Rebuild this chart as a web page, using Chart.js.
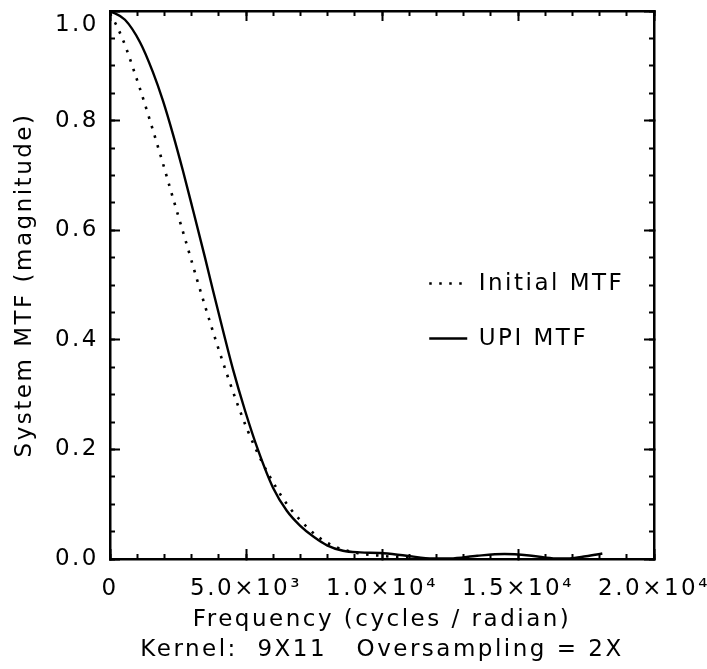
<!DOCTYPE html>
<html>
<head>
<meta charset="utf-8">
<script src="https://cdn.jsdelivr.net/npm/chart.js@4/dist/chart.umd.min.js"></script>
<style>
html,body{margin:0;padding:0;background:#fff;}
#wrap{width:707px;height:669px;}
</style>
</head>
<body>
<div id="wrap"><canvas id="c" width="707" height="669"></canvas></div>
<script>
// ---- data ----
const seriesNames = ['Initial MTF', 'UPI MTF'];
const initialFreq = [0, 184, 331, 478, 625, 846, 1103, 1471, 1801, 2022, 2243, 2463, 2684, 2904, 3199, 3566, 3934, 4301, 4669, 5074, 5588, 5882, 6300, 6691, 7243, 7610, 8200, 9081, 9926, 10404, 11000];
const initialMTF  = [0.995, 0.979, 0.964, 0.947, 0.928, 0.896, 0.858, 0.800, 0.746, 0.709, 0.671, 0.634, 0.597, 0.560, 0.510, 0.450, 0.392, 0.337, 0.285, 0.233, 0.177, 0.150, 0.115, 0.088, 0.058, 0.042, 0.024, 0.011, 0.006, 0.004, 0.003];
const upiFreq = [0, 551, 1103, 1581, 1949, 2316, 2684, 3051, 3493, 3787, 4154, 4522, 4963, 5441, 5993, 6500, 6985, 7500, 7978, 8566, 9200, 9926, 10900, 11870, 12500, 13500, 14500, 15500, 16400, 16900, 17500, 18100];
const upiMTF  = [1.000, 0.984, 0.943, 0.888, 0.836, 0.775, 0.708, 0.637, 0.550, 0.490, 0.417, 0.346, 0.271, 0.199, 0.130, 0.088, 0.061, 0.040, 0.025, 0.015, 0.012, 0.011, 0.006, 0.001, 0.001, 0.006, 0.009, 0.006, 0.001, 0.001, 0.005, 0.010];
const xTickValues = [0, 5000, 10000, 15000, 20000];
const xTickLabels = ['0', '5.0×10³', '1.0×10⁴', '1.5×10⁴', '2.0×10⁴'];
const yTickValues = [0, 0.2, 0.4, 0.6, 0.8, 1.0];
const yTickLabels = ['0.0', '0.2', '0.4', '0.6', '0.8', '1.0'];
const xAxisTitle = ['Frequency (cycles / radian)', 'Kernel:  9X11   Oversampling = 2X'];
const yAxisTitle = 'System MTF (magnitude)';

// ---- styling ----
const FONT = 'DejaVu Sans';
const LETTER_SPACING = '2.5px';
const LEGEND_POS = {x: 0.528, y: 0.418}; // fraction of chart area

Chart.defaults.font.family = FONT;
Chart.defaults.color = '#000';

const spacingPlugin = {
  id: 'spacing',
  beforeUpdate(chart) { chart.ctx.letterSpacing = LETTER_SPACING; },
  beforeDraw(chart) { chart.ctx.letterSpacing = LETTER_SPACING; }
};
const legendPlacer = {
  id: 'legendPlacer',
  afterLayout(chart) {
    const lg = chart.legend, ca = chart.chartArea;
    if (!lg) return;
    const w = lg.width;
    lg.left = ca.left + LEGEND_POS.x * (ca.right - ca.left);
    lg.top = ca.top + LEGEND_POS.y * (ca.bottom - ca.top);
    lg.right = lg.left + w;
    lg.bottom = ca.bottom;
  }
};

function xLabel(v) {
  const i = xTickValues.indexOf(v);
  return i >= 0 ? xTickLabels[i] : '';
}
function yLabel(v) {
  const i = yTickValues.findIndex(t => Math.abs(t - v) < 1e-6);
  if (i < 0) return '';
  // the top label sits just below its tick in the reference
  return i === yTickValues.length - 1 ? ['', yTickLabels[i]] : yTickLabels[i];
}

const tickFont = {family: FONT, size: 23};
const gridMajor = {drawOnChartArea: false, tickLength: -10, tickWidth: 2, tickColor: '#000'};
const gridMinor = {drawOnChartArea: false, tickLength: -5, tickWidth: 2, tickColor: '#000'};
const border = {display: true, color: '#000', width: 2.5};

function minorX(pos) {
  return {type: 'linear', position: pos, min: 0, max: 20000, display: true, weight: 0,
    ticks: {display: false, stepSize: 1000}, grid: gridMinor, border: {display: false},
    afterFit(s) { s.height = 0; s.paddingLeft = 0; s.paddingRight = 0; }};
}
function minorY(pos) {
  return {type: 'linear', position: pos, min: 0, max: 1, display: true, weight: 0,
    ticks: {display: false, stepSize: 0.05}, grid: gridMinor, border: {display: false},
    afterFit(s) { s.width = 0; s.paddingTop = 0; s.paddingBottom = 0; }};
}

const cfg = {
  type: 'line',
  data: {
    datasets: [
      {
        label: seriesNames[0],
        data: initialFreq.map((x, i) => ({x: x, y: initialMTF[i]})),
        borderColor: '#000', backgroundColor: 'transparent',
        borderWidth: 2.6, borderDash: [2.5, 7.5], borderCapStyle: 'butt',
        pointRadius: 0, tension: 0.4, cubicInterpolationMode: 'monotone', fill: false,
        xAxisID: 'x', yAxisID: 'y'
      },
      {
        label: seriesNames[1],
        data: upiFreq.map((x, i) => ({x: x, y: upiMTF[i]})),
        borderColor: '#000', backgroundColor: 'transparent',
        borderWidth: 2.4,
        pointRadius: 0, tension: 0.4, cubicInterpolationMode: 'monotone', fill: false,
        xAxisID: 'x', yAxisID: 'y'
      }
    ]
  },
  options: {
    responsive: false,
    animation: false,
    events: [],
    layout: {padding: {top: 11, right: 53, bottom: 0, left: 0}},
    plugins: {
      tooltip: {enabled: false},
      legend: {
        display: true,
        position: 'chartArea',
        fullSize: false,
        align: 'start',
        labels: {
          font: {family: FONT, size: 23},
          color: '#000',
          boxWidth: 38,
          boxHeight: 23,
          padding: 32,
          usePointStyle: true,
          pointStyle: 'line',
          pointStyleWidth: 38,
          textAlign: 'left',
          generateLabels(chart) {
            const items = Chart.defaults.plugins.legend.labels.generateLabels(chart);
            items.forEach(it => {
              const ds = chart.data.datasets[it.datasetIndex];
              it.lineDash = ds.borderDash || [];
              it.lineWidth = ds.borderWidth;
              it.strokeStyle = ds.borderColor;
              it.fillStyle = 'transparent';
              it.pointStyle = 'line';
              it.lineCap = 'butt';
              it.textAlign = 'left';
            });
            return items;
          }
        }
      }
    },
    scales: {
      x: {
        type: 'linear', position: 'bottom', min: 0, max: 20000, weight: 1,
        ticks: {stepSize: 5000, font: tickFont, padding: 26, maxRotation: 0, autoSkip: false, callback: v => xLabel(v)},
        grid: gridMajor, border: border,
        title: {display: true, text: xAxisTitle, font: {family: FONT, size: 23, lineHeight: 1.3}, padding: {top: 0, bottom: 4}},
        afterFit(s) { s.height = 110; s.paddingLeft = 0; s.paddingRight = 0; }
      },
      xMinor: minorX('bottom'),
      xTop: {
        type: 'linear', position: 'top', min: 0, max: 20000, weight: 1,
        ticks: {display: false, stepSize: 5000}, grid: gridMajor, border: border,
        afterFit(s) { s.height = 0; s.paddingLeft = 0; s.paddingRight = 0; }
      },
      xTopMinor: minorX('top'),
      y: {
        type: 'linear', position: 'left', min: 0, max: 1, weight: 1,
        ticks: {stepSize: 0.2, font: tickFont, padding: 21, callback: v => yLabel(v)},
        grid: gridMajor, border: border,
        title: {display: true, text: yAxisTitle, font: {family: FONT, size: 23, lineHeight: 1.2}, padding: {top: 11, bottom: 0}},
        afterFit(s) { s.width = 110; s.paddingTop = 0; s.paddingBottom = 0; }
      },
      yMinor: minorY('left'),
      yRight: {
        type: 'linear', position: 'right', min: 0, max: 1, weight: 1,
        ticks: {display: false, stepSize: 0.2}, grid: gridMajor, border: border,
        afterFit(s) { s.width = 0; s.paddingTop = 0; s.paddingBottom = 0; }
      },
      yRightMinor: minorY('right')
    }
  },
  plugins: [spacingPlugin, legendPlacer]
};

new Chart(document.getElementById('c'), cfg);
</script>
</body>
</html>
